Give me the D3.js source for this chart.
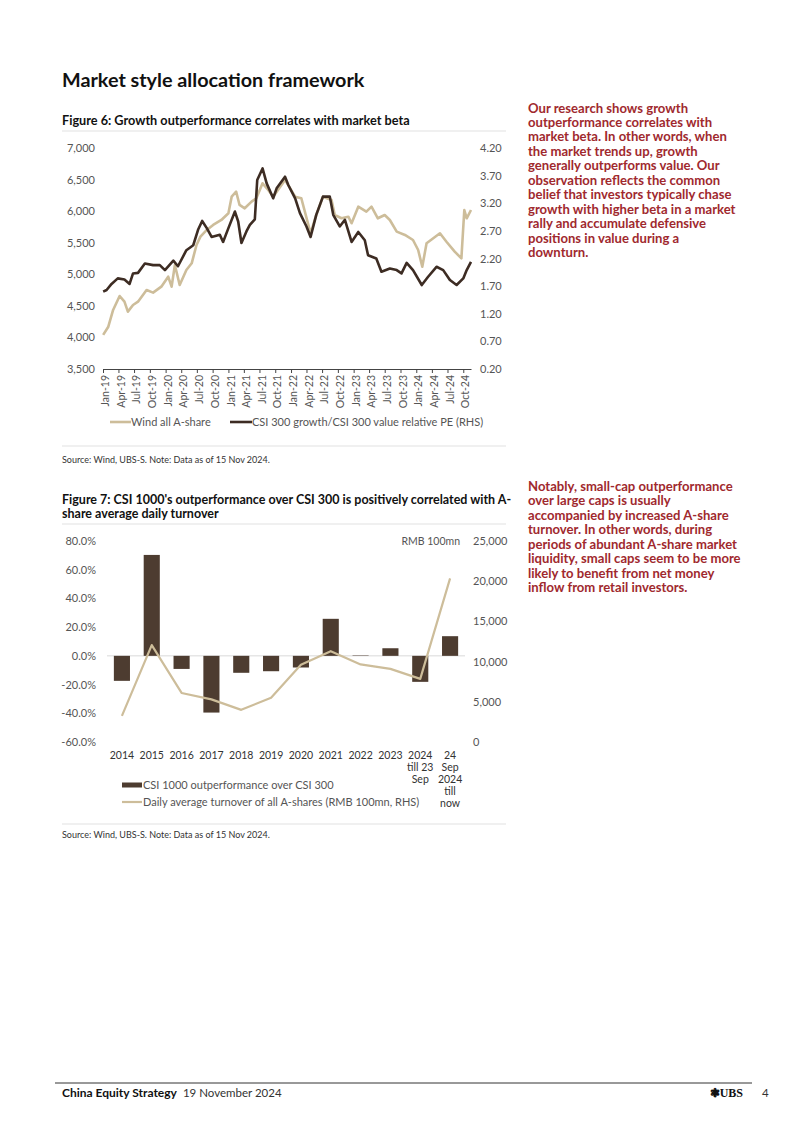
<!DOCTYPE html>
<html>
<head>
<meta charset="utf-8">
<script src="https://cdn.jsdelivr.net/npm/d3@7"></script>
<style>
  body { margin: 0; background: #fff; }
  svg { display: block; font-family: Lato, "Open Sans", sans-serif; }
</style>
</head>
<body>
<div id="page"></div>
<script>
// page size
const W = 802, H = 1134;

// ---- Figure 6 data ----
const wasDates = ["2019-01-02","2019-02-01","2019-03-01","2019-04-08","2019-05-06","2019-05-26","2019-06-25","2019-07-24",
  "2019-09-12","2019-10-20","2019-12-07","2020-01-16","2020-02-05","2020-02-24","2020-03-23","2020-05-01","2020-06-01",
  "2020-06-29","2020-07-22","2020-08-28","2020-10-04","2020-11-21","2021-01-01","2021-01-20","2021-02-15","2021-03-07",
  "2021-04-06","2021-05-16","2021-06-13","2021-07-19","2021-08-21","2021-09-19","2021-11-27","2022-01-25","2022-03-02",
  "2022-04-25","2022-05-28","2022-07-06","2022-08-25","2022-09-13","2022-10-22","2022-12-01","2022-12-20","2023-01-28",
  "2023-03-16","2023-04-15","2023-05-22","2023-07-01","2023-07-31","2023-09-09","2023-10-27","2023-12-13","2024-01-12",
  "2024-02-05","2024-03-01","2024-04-09","2024-05-18","2024-06-25","2024-08-12","2024-09-20","2024-10-07","2024-10-21",
  "2024-11-15"];
const wasValues = [4040,4170,4435,4656,4566,4408,4514,4566,4751,4709,4804,4962,4804,5147,4831,5068,5174,
  5464,5596,5702,5781,5860,5966,6229,6308,6098,6045,6150,6204,6441,6335,6229,6494,6229,6204,
  5649,5939,6229,6177,5939,5887,5912,5808,6071,5992,6071,5887,5939,5860,5675,5623,5543,5385,
  5120,5491,5570,5649,5516,5358,5253,6018,5887,6018];

const peDates = ["2019-01-02","2019-01-22","2019-02-20","2019-03-28","2019-05-06","2019-06-05","2019-06-25","2019-07-24",
  "2019-09-02","2019-10-20","2019-11-28","2019-12-28","2020-02-15","2020-03-13","2020-05-01","2020-06-10","2020-07-08",
  "2020-08-01","2020-08-28","2020-09-25","2020-11-12","2020-12-01","2021-01-01","2021-02-08","2021-02-27","2021-03-18",
  "2021-04-16","2021-05-06","2021-06-04","2021-06-18","2021-07-19","2021-08-12","2021-09-19","2021-10-09","2021-11-27",
  "2021-12-16","2022-01-25","2022-02-22","2022-04-01","2022-04-25","2022-05-28","2022-07-06","2022-08-15","2022-09-04",
  "2022-10-12","2022-11-11","2022-12-20","2023-01-28","2023-03-07","2023-03-26","2023-05-13","2023-06-12","2023-07-31",
  "2023-09-09","2023-10-07","2023-11-06","2023-12-13","2024-02-02","2024-03-10","2024-04-28","2024-06-06","2024-07-15",
  "2024-08-23","2024-10-01","2024-10-21","2024-11-15"];
const peValues = [1.60,1.63,1.74,1.84,1.82,1.74,1.93,1.94,2.11,2.08,2.08,1.99,2.16,2.06,2.35,2.44,2.72,
  2.88,2.75,2.59,2.63,2.50,2.75,3.05,2.87,2.48,2.69,2.81,2.91,3.62,3.83,3.56,3.29,3.47,3.68,
  3.53,3.29,3.02,2.78,2.59,2.99,3.32,3.32,2.99,2.78,2.90,2.50,2.68,2.53,2.26,2.20,1.96,2.02,
  1.99,1.93,2.12,1.99,1.72,1.87,2.05,1.99,1.81,1.72,1.84,1.99,2.14];

const leftTicks6 = [3500,4000,4500,5000,5500,6000,6500,7000];
const rightTicks6 = [0.2,0.7,1.2,1.7,2.2,2.7,3.2,3.7,4.2];

// ---- Figure 7 data ----
const periods = ["2014","2015","2016","2017","2018","2019","2020","2021","2022","2023","2024 till 23 Sep","24 Sep 2024 till now"];
const periodLines = [["2014"],["2015"],["2016"],["2017"],["2018"],["2019"],["2020"],["2021"],["2022"],["2023"],
  ["2024","till 23","Sep"],["24","Sep","2024","till","now"]];
const outperf = [-17.4,70.3,-9.1,-39.5,-11.8,-10.7,-8.1,25.8,0.3,5.3,-18.1,13.7];
const turnover = [3250,12050,6100,5300,4000,5500,9600,11300,9650,9100,7850,20350];
const leftTicks7 = [-60,-40,-20,0,20,40,60,80];
const rightTicks7 = [0,5000,10000,15000,20000,25000];

const darkLine = "#3d2c23";
const tanLine = "#cdbd9a";
const barColor = "#4d3c30";
const red = "#a0292e";
const axisText = "#555";

const svg = d3.select("#page").append("svg")
  .attr("width", W).attr("height", H);

// ---- headings ----
svg.append("text").attr("x", 62).attr("y", 87)
  .attr("font-size", 19.8).attr("font-weight", 700).attr("fill", "#111")
  .text("Market style allocation framework");

svg.append("text").attr("x", 62).attr("y", 125)
  .attr("font-size", 12.7).attr("font-weight", 700).attr("fill", "#111")
  .text("Figure 6: Growth outperformance correlates with market beta");

function rule(y) {
  svg.append("line").attr("x1", 62).attr("x2", 506).attr("y1", y).attr("y2", y)
    .attr("stroke", "#e2e2e2").attr("stroke-width", 1.2);
}
rule(131);

// ---- Figure 6 chart ----
const parse = d3.timeParse("%Y-%m-%d");
const x6 = d3.scaleTime()
  .domain([new Date(2019, 0, 1), new Date(2024, 10, 15)])
  .range([103, 471]);
const yL6 = d3.scaleLinear().domain([3500, 7000]).range([369, 148]);
const yR6 = d3.scaleLinear().domain([0.2, 4.2]).range([369, 148]);

const xAxis6 = svg.append("g")
  .attr("transform", "translate(0,369)")
  .call(d3.axisBottom(x6)
    .tickValues(d3.timeMonth.every(3).range(new Date(2019, 0, 1), new Date(2024, 10, 1)))
    .tickSize(4)
    .tickSizeOuter(0)
    .tickFormat(d3.timeFormat("%b-%y")));
xAxis6.select(".domain").attr("stroke", "#444");
xAxis6.selectAll(".tick line").attr("stroke", "#444");
xAxis6.selectAll(".tick text")
  .attr("font-size", 10.5).attr("fill", axisText).attr("font-family", "Lato")
  .attr("text-anchor", "end")
  .attr("transform", "rotate(-90)")
  .attr("x", -6).attr("y", 2).attr("dy", "0.35em");

const yLAxis6 = svg.append("g")
  .attr("transform", "translate(97,0)")
  .call(d3.axisLeft(yL6).tickValues(leftTicks6).tickSize(0).tickFormat(d3.format(",")));
yLAxis6.select(".domain").remove();
yLAxis6.selectAll("text").attr("font-size", 11).attr("fill", axisText).attr("font-family", "Lato").attr("x", -2);

const yRAxis6 = svg.append("g")
  .attr("transform", "translate(478,0)")
  .call(d3.axisRight(yR6).tickValues(rightTicks6).tickSize(0).tickFormat(d3.format(".2f")));
yRAxis6.select(".domain").remove();
yRAxis6.selectAll("text").attr("font-size", 11).attr("fill", axisText).attr("font-family", "Lato").attr("x", 2);

const wasData = wasDates.map((d, i) => ({ date: parse(d), v: wasValues[i] }));
const peData = peDates.map((d, i) => ({ date: parse(d), v: peValues[i] }));

svg.append("path").datum(wasData)
  .attr("fill", "none").attr("stroke", tanLine).attr("stroke-width", 2.6)
  .attr("stroke-linejoin", "round")
  .attr("d", d3.line().x(d => x6(d.date)).y(d => yL6(d.v)));

svg.append("path").datum(peData)
  .attr("fill", "none").attr("stroke", darkLine).attr("stroke-width", 2.6)
  .attr("stroke-linejoin", "round")
  .attr("d", d3.line().x(d => x6(d.date)).y(d => yR6(d.v)));

// legend fig 6
const leg6 = svg.append("g").attr("font-size", 11).attr("fill", axisText);
leg6.append("line").attr("x1", 110).attr("x2", 131).attr("y1", 422).attr("y2", 422)
  .attr("stroke", tanLine).attr("stroke-width", 2.6);
leg6.append("text").attr("x", 131).attr("y", 422).attr("dy", "0.35em").text("Wind all A-share");
leg6.append("line").attr("x1", 230).attr("x2", 252).attr("y1", 422).attr("y2", 422)
  .attr("stroke", darkLine).attr("stroke-width", 2.6);
leg6.append("text").attr("x", 252).attr("y", 422).attr("dy", "0.35em").text("CSI 300 growth/CSI 300 value relative PE (RHS)");

rule(446);
svg.append("text").attr("x", 62).attr("y", 463).attr("font-size", 9).attr("fill", "#333")
  .text("Source: Wind, UBS-S. Note: Data as of 15 Nov 2024.");

// ---- side notes ----
const note1 = ["Our research shows growth", "outperformance correlates with", "market beta. In other words, when",
  "the market trends up, growth", "generally outperforms value. Our", "observation reflects the common",
  "belief that investors typically chase", "growth with higher beta in a market", "rally and accumulate defensive",
  "positions in value during a", "downturn."];
const note2 = ["Notably, small-cap outperformance", "over large caps is usually", "accompanied by increased A-share",
  "turnover. In other words, during", "periods of abundant A-share market", "liquidity, small caps seem to be more",
  "likely to benefit from net money", "inflow from retail investors."];

function note(lines, y0) {
  svg.append("g").selectAll("text").data(lines).enter().append("text")
    .attr("x", 528).attr("y", (d, i) => y0 + i * 14.45)
    .attr("font-size", 13.1).attr("font-weight", 700).attr("fill", red)
    .text(d => d);
}
note(note1, 112.5);
note(note2, 491);

// ---- Figure 7 ----
svg.append("text").attr("x", 62).attr("y", 503.5)
  .attr("font-size", 12.5).attr("font-weight", 700).attr("fill", "#111")
  .text("Figure 7: CSI 1000's outperformance over CSI 300 is positively correlated with A-");
svg.append("text").attr("x", 62).attr("y", 518)
  .attr("font-size", 12.5).attr("font-weight", 700).attr("fill", "#111")
  .text("share average daily turnover");
rule(524);

const x7 = d3.scaleBand().domain(d3.range(periods.length)).range([107, 465])
  .paddingInner(0.46).paddingOuter(0.23);
const yL7 = d3.scaleLinear().domain([-60, 80]).range([742, 541]);
const yR7 = d3.scaleLinear().domain([0, 25000]).range([742, 541]);

const yLAxis7 = svg.append("g").attr("transform", "translate(97,0)")
  .call(d3.axisLeft(yL7).tickValues(leftTicks7).tickSize(0).tickFormat(d => d.toFixed(1) + "%"));
yLAxis7.select(".domain").remove();
yLAxis7.selectAll("text").attr("font-size", 11).attr("fill", axisText).attr("font-family", "Lato").attr("x", -1);

const yRAxis7 = svg.append("g").attr("transform", "translate(471,0)")
  .call(d3.axisRight(yR7).tickValues(rightTicks7).tickSize(0).tickFormat(d3.format(",")));
yRAxis7.select(".domain").remove();
yRAxis7.selectAll("text").attr("font-size", 11).attr("fill", axisText).attr("font-family", "Lato").attr("x", 2);

svg.append("text").attr("x", 460).attr("y", yR7(25000)).attr("dy", "0.35em")
  .attr("text-anchor", "end").attr("font-size", 10.5).attr("fill", axisText)
  .text("RMB 100mn");

// zero line
svg.append("line").attr("x1", 107).attr("x2", 465).attr("y1", yL7(0)).attr("y2", yL7(0))
  .attr("stroke", "#d9d9d9").attr("stroke-width", 1);

svg.append("g").selectAll("rect").data(outperf).enter().append("rect")
  .attr("x", (d, i) => x7(i))
  .attr("width", x7.bandwidth())
  .attr("y", d => yL7(Math.max(0, d)))
  .attr("height", d => Math.abs(yL7(d) - yL7(0)))
  .attr("fill", barColor);

svg.append("path").datum(turnover)
  .attr("fill", "none").attr("stroke", tanLine).attr("stroke-width", 2.2)
  .attr("stroke-linejoin", "round")
  .attr("d", d3.line().x((d, i) => x7(i) + x7.bandwidth() / 2).y(d => yR7(d)));

// category labels (multi-line)
const cat = svg.append("g").attr("font-size", 10.5).attr("fill", "#333").attr("text-anchor", "middle");
periodLines.forEach((lines, i) => {
  const t = cat.append("text").attr("x", x7(i) + x7.bandwidth() / 2).attr("y", 759);
  lines.forEach((l, j) => {
    t.append("tspan").attr("x", x7(i) + x7.bandwidth() / 2).attr("dy", j === 0 ? 0 : 12).text(l);
  });
});

// legend fig 7
const leg7 = svg.append("g").attr("font-size", 11).attr("fill", axisText);
leg7.append("rect").attr("x", 122).attr("y", 782.5).attr("width", 20).attr("height", 5).attr("fill", barColor);
leg7.append("text").attr("x", 143).attr("y", 785).attr("dy", "0.35em").text("CSI 1000 outperformance over CSI 300");
leg7.append("line").attr("x1", 122).attr("x2", 142).attr("y1", 802).attr("y2", 802)
  .attr("stroke", tanLine).attr("stroke-width", 2.2);
leg7.append("text").attr("x", 143).attr("y", 802).attr("dy", "0.35em")
  .text("Daily average turnover of all A-shares (RMB 100mn, RHS)");

rule(824);
svg.append("text").attr("x", 62).attr("y", 838).attr("font-size", 9).attr("fill", "#333")
  .text("Source: Wind, UBS-S. Note: Data as of 15 Nov 2024.");

// ---- footer ----
svg.append("line").attr("x1", 55).attr("x2", 752).attr("y1", 1083).attr("y2", 1083)
  .attr("stroke", "#333").attr("stroke-width", 1);
const foot = svg.append("text").attr("x", 62).attr("y", 1097).attr("font-size", 12).attr("fill", "#111");
foot.append("tspan").attr("font-weight", 700).text("China Equity Strategy");
foot.append("tspan").attr("dx", 6).attr("font-size", 11.5).attr("fill", "#333").text("19 November 2024");
svg.append("text").attr("x", 743).attr("y", 1097).attr("text-anchor", "end")
  .attr("font-family", "Liberation Serif").attr("font-size", 12).attr("font-weight", 700).attr("fill", "#111")
  .text("\u2743UBS");
svg.append("text").attr("x", 762).attr("y", 1097).attr("font-size", 11.5).attr("fill", "#333").text("4");
</script>
</body>
</html>
